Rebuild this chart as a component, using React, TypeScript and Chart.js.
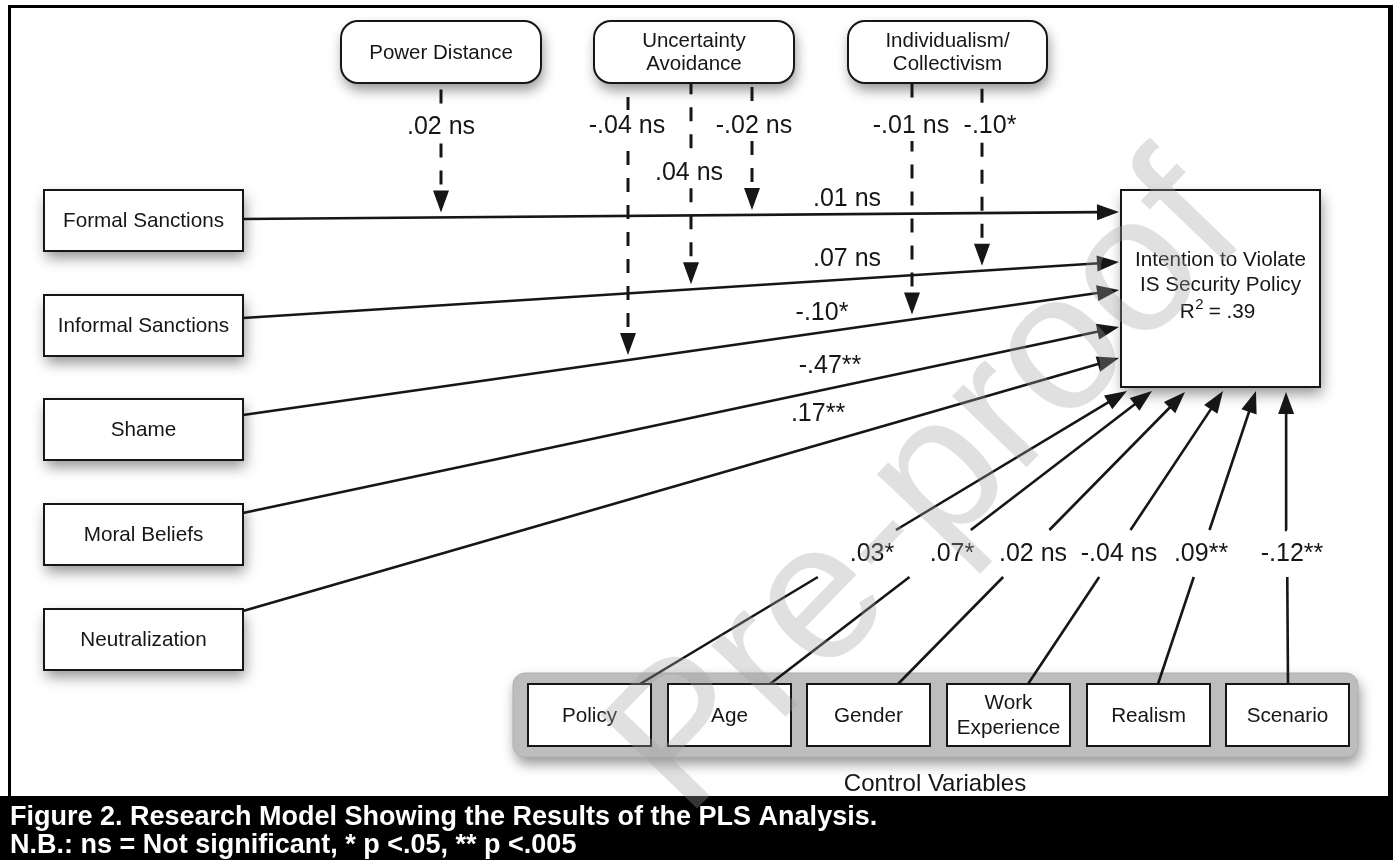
import React, { useEffect, useRef } from "react";
import { Chart, registerables } from "chart.js";

Chart.register(...registerables);

// ------------------------------------------------------------------ data
const predictorNames = ["Formal Sanctions", "Informal Sanctions", "Shame", "Moral Beliefs", "Neutralization"];
const predictorCoefficients = [".01 ns", ".07 ns", "-.10*", "-.47**", ".17**"];

const moderatorNames = ["Power Distance", "Uncertainty\nAvoidance", "Individualism/\nCollectivism"];
const moderationCoefficients = [".02 ns", "-.04 ns", ".04 ns", "-.02 ns", "-.01 ns", "-.10*"];
const moderationSource = [0, 1, 1, 1, 2, 2]; // index into moderatorNames
const moderationTarget = [0, 2, 1, 0, 2, 1]; // index into predictorNames (path moderated)

const controlNames = ["Policy", "Age", "Gender", "Work\nExperience", "Realism", "Scenario"];
const controlCoefficients = [".03*", ".07*", ".02 ns", "-.04 ns", ".09**", "-.12**"];

const outcomeName = "Intention to Violate\nIS Security Policy";
const outcomeR2 = ".39";
const groupLabel = "Control Variables";
const captionLines = [
  "Figure 2. Research Model Showing the Results of the PLS Analysis.",
  "N.B.: ns = Not significant, * p <.05, ** p <.005",
];
const watermark = "Pre-proof";

// ------------------------------------------------------------------ layout (value space = page pixels)
const W = 1393;
const H = 860;
const FONT = '"Liberation Sans", Arial, Helvetica, sans-serif';
const INK = "#161616";

const predBox = { x: 44, w: 199, h: 61 };
const predTops = [190, 295, 399, 504, 609];
const predStartY = [219, 318, 415, 513, 611];
const predEndY = [212, 262, 290, 327, 358];
const predEndX = 1119;
const predLabelPos = [
  [847, 198],
  [847, 258],
  [822, 312],
  [830, 365],
  [818, 413],
];

const modBoxes = [
  [341, 21, 200, 62],
  [594, 21, 200, 62],
  [848, 21, 199, 62],
];
const modLineX = [441, 628, 691, 752, 912, 982];
const modLabelPos = [
  [441, 126],
  [627, 125],
  [689, 172],
  [754, 125],
  [911, 125],
  [990, 125],
];

const outBox = [1121, 190, 199, 197];

const ctrlContainer = [513, 673, 845, 84];
const ctrlLefts = [528, 668, 807, 947, 1087, 1226];
const ctrlBox = { y: 684, w: 123, h: 62 };
const ctrlStartX = [640, 770, 898, 1028, 1158, 1288];
const ctrlTips = [
  [1127, 391],
  [1152, 391],
  [1185, 392],
  [1223, 391],
  [1256, 391],
  [1286, 392],
];
const ctrlLabelX = [872, 952, 1033, 1119, 1201, 1292];
const ctrlLabelY = 553;
const ctrlGap = [530, 577];

const ARROW_LEN = 22;
const ARROW_HALF = 8;

// ------------------------------------------------------------------ helpers
type P = { x: number; y: number };

function predY(i: number, x: number) {
  return predStartY[i] + ((predEndY[i] - predStartY[i]) * (x - predBox.x - predBox.w)) / (predEndX - predBox.x - predBox.w);
}
function towards(from: P, tip: P, back: number): P {
  const dx = tip.x - from.x;
  const dy = tip.y - from.y;
  const L = Math.hypot(dx, dy);
  return { x: tip.x - (dx / L) * back, y: tip.y - (dy / L) * back };
}
function atY(a: P, b: P, y: number): P {
  const t = (a.y - y) / (a.y - b.y);
  return { x: a.x + (b.x - a.x) * t, y };
}

// arrow definitions (from, tip), built from the data/layout above
const arrows: { from: P; tip: P }[] = [];
predictorNames.forEach((_, i) => {
  arrows.push({ from: { x: predBox.x + predBox.w, y: predStartY[i] }, tip: { x: predEndX, y: predEndY[i] } });
});
const modTips: P[] = moderationCoefficients.map((_, k) => {
  const x = modLineX[k];
  return { x, y: predY(moderationTarget[k], x) - 5 };
});
modTips.forEach((tip, k) => {
  const box = modBoxes[moderationSource[k]];
  arrows.push({ from: { x: tip.x, y: box[1] + box[3] }, tip });
});
controlNames.forEach((_, i) => {
  arrows.push({ from: { x: ctrlStartX[i], y: ctrlBox.y }, tip: { x: ctrlTips[i][0], y: ctrlTips[i][1] } });
});

// datasets
const solid = { showLine: true, borderColor: INK, borderWidth: 2.6, pointRadius: 0, fill: false };
const datasets: any[] = [];
predictorNames.forEach((_, i) => {
  const a = arrows[i];
  datasets.push({ ...solid, label: predictorNames[i], data: [a.from, towards(a.from, a.tip, ARROW_LEN - 2)] });
});
moderationCoefficients.forEach((c, k) => {
  const a = arrows[predictorNames.length + k];
  datasets.push({
    ...solid,
    label: c,
    borderWidth: 3,
    borderDash: [14, 13],
    borderDashOffset: 19,
    data: [towards(a.from, a.tip, ARROW_LEN - 2), a.from],
  });
});
controlNames.forEach((n, i) => {
  const a = arrows[predictorNames.length + moderationCoefficients.length + i];
  const base = towards(a.from, a.tip, ARROW_LEN - 2);
  datasets.push({ ...solid, label: n + " lower", data: [a.from, atY(a.from, a.tip, ctrlGap[1])] });
  datasets.push({ ...solid, label: n + " upper", data: [atY(a.from, a.tip, ctrlGap[0]), base] });
});

// ------------------------------------------------------------------ drawing
function rrect(ctx: CanvasRenderingContext2D, x: number, y: number, w: number, h: number, r: number) {
  ctx.beginPath();
  ctx.moveTo(x + r, y);
  ctx.arcTo(x + w, y, x + w, y + h, r);
  ctx.arcTo(x + w, y + h, x, y + h, r);
  ctx.arcTo(x, y + h, x, y, r);
  ctx.arcTo(x, y, x + w, y, r);
  ctx.closePath();
}
function box(ctx: CanvasRenderingContext2D, x: number, y: number, w: number, h: number, r: number, fill: string, stroke: string | null, shadow = true) {
  ctx.save();
  if (shadow) {
    ctx.shadowColor = "rgba(0,0,0,0.42)";
    ctx.shadowBlur = 13;
    ctx.shadowOffsetX = 2;
    ctx.shadowOffsetY = 7;
  }
  rrect(ctx, x, y, w, h, r);
  ctx.fillStyle = fill;
  ctx.fill();
  ctx.restore();
  if (stroke) {
    ctx.save();
    rrect(ctx, x, y, w, h, r);
    ctx.lineWidth = 2;
    ctx.strokeStyle = stroke;
    ctx.stroke();
    ctx.restore();
  }
}
function text(ctx: CanvasRenderingContext2D, s: string, x: number, y: number, size: number, lh = 24, color = INK) {
  ctx.save();
  ctx.font = `${size}px ${FONT}`;
  ctx.fillStyle = color;
  ctx.textAlign = "center";
  ctx.textBaseline = "middle";
  const lines = s.split("\n");
  const y0 = y - ((lines.length - 1) * lh) / 2;
  lines.forEach((l, i) => ctx.fillText(l, x, y0 + i * lh + 1));
  ctx.restore();
}
function arrowHead(ctx: CanvasRenderingContext2D, from: P, tip: P) {
  const dx = tip.x - from.x;
  const dy = tip.y - from.y;
  const L = Math.hypot(dx, dy);
  const ux = dx / L;
  const uy = dy / L;
  const bx = tip.x - ux * ARROW_LEN;
  const by = tip.y - uy * ARROW_LEN;
  ctx.beginPath();
  ctx.moveTo(tip.x, tip.y);
  ctx.lineTo(bx - uy * ARROW_HALF, by + ux * ARROW_HALF);
  ctx.lineTo(bx + uy * ARROW_HALF, by - ux * ARROW_HALF);
  ctx.closePath();
  ctx.fillStyle = INK;
  ctx.fill();
}

const diagramPlugin = {
  id: "pathDiagram",
  beforeDraw(chart: any) {
    const ctx = chart.ctx;
    ctx.save();
    ctx.fillStyle = "#ffffff";
    ctx.fillRect(0, 0, chart.width, chart.height);
    ctx.restore();
  },
  beforeDatasetsDraw(chart: any) {
    const ctx: CanvasRenderingContext2D = chart.ctx;
    const sx = chart.scales.x;
    const sy = chart.scales.y;
    const X = (v: number) => sx.getPixelForValue(v);
    const Y = (v: number) => sy.getPixelForValue(v);
    const Wd = (x: number, w: number) => X(x + w) - X(x);
    const Hd = (y: number, h: number) => Y(y + h) - Y(y);

    // moderator boxes
    modBoxes.forEach((b, i) => {
      box(ctx, X(b[0]), Y(b[1]), Wd(b[0], b[2]), Hd(b[1], b[3]), 17, "#fff", INK);
      text(ctx, moderatorNames[i], X(b[0] + b[2] / 2), Y(b[1] + b[3] / 2), 20.5, 23);
    });
    // predictors
    predictorNames.forEach((n, i) => {
      box(ctx, X(predBox.x), Y(predTops[i]), Wd(predBox.x, predBox.w), Hd(predTops[i], predBox.h), 0, "#fff", INK);
      text(ctx, n, X(predBox.x + predBox.w / 2), Y(predTops[i] + predBox.h / 2), 20.7);
    });
    // outcome
    {
      const [x, y, w, h] = outBox;
      box(ctx, X(x), Y(y), Wd(x, w), Hd(y, h), 0, "#fff", INK);
      const cx = X(x + w / 2);
      text(ctx, outcomeName, cx, Y(260) + 12, 20.7, 25);
      ctx.save();
      ctx.fillStyle = INK;
      ctx.textBaseline = "alphabetic";
      ctx.textAlign = "left";
      ctx.font = `20.7px ${FONT}`;
      const wR = ctx.measureText("R").width;
      const rest = " = " + outcomeR2;
      const wRest = ctx.measureText(rest).width;
      ctx.font = `15px ${FONT}`;
      const w2 = ctx.measureText("2").width;
      const total = wR + w2 + wRest;
      let px = cx - total / 2 - 3;
      const base = Y(318);
      ctx.font = `20.7px ${FONT}`;
      ctx.fillText("R", px, base);
      px += wR;
      ctx.font = `15px ${FONT}`;
      ctx.fillText("2", px + 0.5, base - 9);
      px += w2;
      ctx.font = `20.7px ${FONT}`;
      ctx.fillText(rest, px, base);
      ctx.restore();
    }
    // controls
    {
      const [x, y, w, h] = ctrlContainer;
      box(ctx, X(x), Y(y), Wd(x, w), Hd(y, h), 12, "#bdbdbd", null);
      ctx.save();
      rrect(ctx, X(x), Y(y), Wd(x, w), Hd(y, h), 12);
      ctx.strokeStyle = "#b0b0b0";
      ctx.lineWidth = 1;
      ctx.stroke();
      ctx.restore();
    }
    controlNames.forEach((n, i) => {
      const x = ctrlLefts[i];
      box(ctx, X(x), Y(ctrlBox.y), Wd(x, ctrlBox.w), Hd(ctrlBox.y, ctrlBox.h), 0, "#fff", INK, false);
      text(ctx, n, X(x + ctrlBox.w / 2), Y(ctrlBox.y + ctrlBox.h / 2), 20.7, 25);
    });
    text(ctx, groupLabel, X(935), Y(783), 24);
  },
  afterDatasetsDraw(chart: any) {
    const ctx: CanvasRenderingContext2D = chart.ctx;
    const sx = chart.scales.x;
    const sy = chart.scales.y;
    const X = (v: number) => sx.getPixelForValue(v);
    const Y = (v: number) => sy.getPixelForValue(v);
    const px = (p: P): P => ({ x: X(p.x), y: Y(p.y) });

    arrows.forEach((a) => arrowHead(ctx, px(a.from), px(a.tip)));

    // coefficient labels
    predictorCoefficients.forEach((c, i) => text(ctx, c, X(predLabelPos[i][0]), Y(predLabelPos[i][1]), 25));
    moderationCoefficients.forEach((c, k) => {
      const x = X(modLabelPos[k][0]);
      const y = Y(modLabelPos[k][1]);
      ctx.save();
      ctx.font = `25px ${FONT}`;
      const w = ctx.measureText(c).width + 8;
      ctx.fillStyle = "#fff";
      ctx.fillRect(x - w / 2, y - 15, w, 31);
      ctx.restore();
      text(ctx, c, x, y, 25);
    });
    controlCoefficients.forEach((c, i) => text(ctx, c, X(ctrlLabelX[i]), Y(ctrlLabelY), 25));

    // frame and caption
    ctx.save();
    ctx.fillStyle = "#000";
    ctx.fillRect(X(8), Y(5), X(W) - X(8), 3);
    ctx.fillRect(X(8), Y(5), 3, Y(796) - Y(5));
    ctx.fillRect(X(1388), Y(5), X(W) - X(1388), Y(796) - Y(5));
    ctx.fillRect(X(0), Y(796), X(W) - X(0), Y(H) - Y(796));
    ctx.fillStyle = "#fff";
    ctx.font = `bold 27px ${FONT}`;
    ctx.textAlign = "left";
    ctx.textBaseline = "alphabetic";
    ctx.fillText(captionLines[0], X(10), Y(825));
    ctx.fillText(captionLines[1], X(10), Y(853));
    ctx.restore();

    // watermark
    ctx.save();
    ctx.translate(X(686), Y(820));
    ctx.rotate((-46 * Math.PI) / 180);
    ctx.font = `195px ${FONT}`;
    ctx.fillStyle = "rgba(160,160,160,0.33)";
    ctx.textAlign = "left";
    ctx.textBaseline = "alphabetic";
    ctx.fillText(watermark, 0, 0);
    ctx.restore();
  },
};

export default function App() {
  const ref = useRef<HTMLCanvasElement>(null);
  useEffect(() => {
    const canvas = ref.current;
    if (!canvas) return;
    const chart = new Chart(canvas, {
      type: "scatter",
      data: { datasets },
      options: {
        animation: false,
        responsive: false,
        devicePixelRatio: 1,
        layout: { padding: 0 },
        events: [],
        scales: {
          x: { type: "linear", min: 0, max: W, display: false },
          y: { type: "linear", min: 0, max: H, reverse: true, display: false },
        },
        plugins: { legend: { display: false }, tooltip: { enabled: false }, title: { display: false } },
      },
      plugins: [diagramPlugin],
    } as any);
    return () => chart.destroy();
  }, []);
  return (
    <canvas
      ref={ref}
      width={W}
      height={H}
      style={{ position: "absolute", left: 0, top: 0, display: "block", width: W, height: H }}
    />
  );
}
